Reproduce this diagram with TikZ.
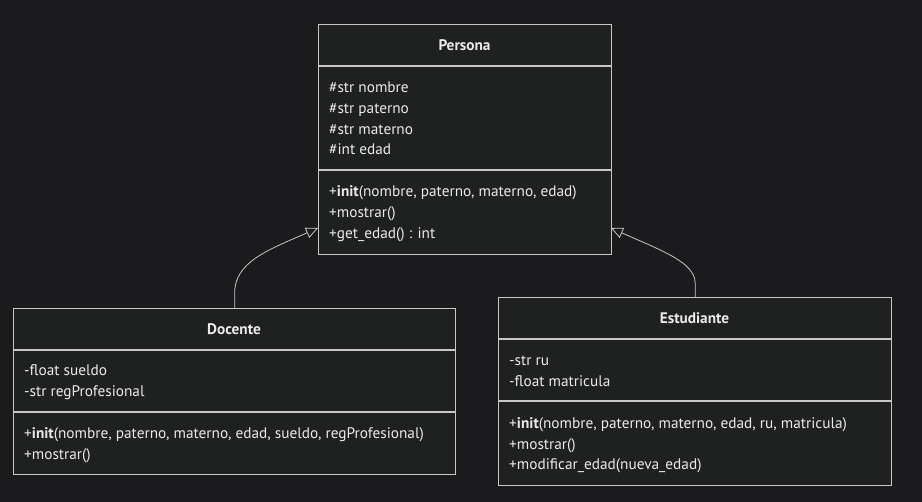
\documentclass[tikz,border=0pt]{standalone}
\usepackage{fontspec}
\setmainfont{PT Sans}
\usetikzlibrary{arrows.meta}
\definecolor{bgcol}{HTML}{1B1B1D}
\definecolor{boxcol}{HTML}{1F2020}
\definecolor{linecol}{HTML}{C8C8C8}
\definecolor{txtcol}{HTML}{EAEAEA}
\tikzset{
  classbox/.style={draw=linecol, fill=boxcol, line width=1.3pt, inner sep=0pt, anchor=north west},
  sep/.style={draw=linecol, line width=1.3pt},
  member/.style={anchor=base west, inner sep=0pt, text=txtcol, font=\fontsize{15.3}{17}\selectfont},
  title/.style={anchor=base, inner sep=0pt, text=txtcol, font=\fontsize{15.3}{17}\selectfont\bfseries},
  inherit/.style={draw=linecol, line width=0.8pt, -{Triangle[length=12pt,width=11pt,fill=bgcol]}}
}
\begin{document}
\begin{tikzpicture}[x=1pt,y=-1pt]
\fill[bgcol] (0,0) rectangle (922,502);
\useasboundingbox (0,0) rectangle (922,502);
% Persona
\node[classbox, minimum width=293pt, minimum height=230pt] (persona) at (318,24) {};
\draw[sep] (318,66) -- (611,66);
\draw[sep] (318,170) -- (611,170);
\node[title] (pt) at (464.5,51) {Persona};
\node[member] (p1) at (329,93) {\#str nombre};
\node[member] (p2) at (329,114) {\#str paterno};
\node[member] (p3) at (329,135) {\#str materno};
\node[member] (p4) at (329,155) {\#int edad};
\node[member] (p5) at (329,197) {+\textbf{init}(nombre, paterno, materno, edad)};
\node[member] (p6) at (329,218) {+mostrar()};
\node[member] (p7) at (329,239) {+get\_edad() : int};
% Docente
\node[classbox, minimum width=442pt, minimum height=166pt] (docente) at (13,308) {};
\draw[sep] (13,350) -- (455,350);
\draw[sep] (13,412) -- (455,412);
\node[title] (dt) at (234,335) {Docente};
\node[member] (d1) at (24,376) {-float sueldo};
\node[member] (d2) at (24,397) {-str regProfesional};
\node[member] (d3) at (24,439) {+\textbf{init}(nombre, paterno, materno, edad, sueldo, regProfesional)};
\node[member] (d4) at (24,460) {+mostrar()};
% Estudiante
\node[classbox, minimum width=393pt, minimum height=188pt] (estudiante) at (498,297) {};
\draw[sep] (498,339) -- (891,339);
\draw[sep] (498,401) -- (891,401);
\node[title] (et) at (694.5,324) {Estudiante};
\node[member] (e1) at (509,366) {-str ru};
\node[member] (e2) at (509,387) {-float matricula};
\node[member] (e3) at (509,429) {+\textbf{init}(nombre, paterno, materno, edad, ru, matricula)};
\node[member] (e4) at (509,450) {+mostrar()};
\node[member] (e5) at (509,470) {+modificar\_edad(nueva\_edad)};
% connectors
\coordinate (pl) at (318,228);
\coordinate (pr) at (611,228);
\draw[inherit] (docente.north) -- ++(0,-14) .. controls (234,262) and (268,250) .. (pl);
\draw[inherit] (estudiante.north) -- ++(0,-14) .. controls (695,262) and (660,250) .. (pr);
\end{tikzpicture}
\end{document}
